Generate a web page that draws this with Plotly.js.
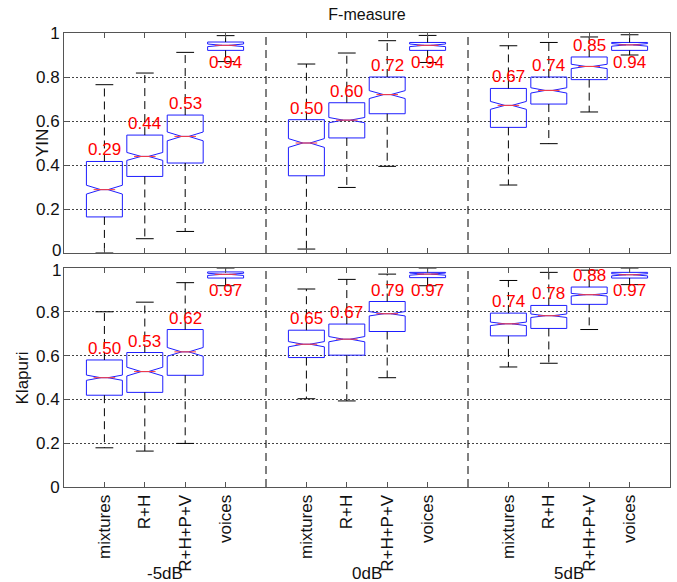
<!DOCTYPE html>
<html>
<head>
<meta charset="utf-8">
<script src="https://cdn.plot.ly/plotly-3.0.1.min.js"></script>
<style>
  html, body { margin: 0; padding: 0; background: #fff; }
  #chart { width: 677px; height: 582px; }
</style>
</head>
<body>
<div id="chart"></div>
<script>
// ---------- data ----------
const groups = ['-5dB', '0dB', '5dB'];
const methods = ['mixtures', 'R+H', 'R+H+P+V', 'voices'];

// YIN (order: -5dB x4 methods, 0dB x4, 5dB x4)
const yinLowerWhisker = [0.000, 0.065, 0.098, 0.870, 0.018, 0.298, 0.394, 0.866, 0.309, 0.497, 0.641, 0.900];
const yinQ1           = [0.164, 0.348, 0.409, 0.921, 0.351, 0.523, 0.633, 0.921, 0.571, 0.677, 0.788, 0.921];
const yinMedian       = [0.288, 0.439, 0.530, 0.944, 0.500, 0.604, 0.720, 0.944, 0.671, 0.739, 0.848, 0.946];
const yinQ3           = [0.416, 0.536, 0.627, 0.959, 0.606, 0.683, 0.800, 0.957, 0.748, 0.800, 0.891, 0.957];
const yinUpperWhisker = [0.765, 0.818, 0.912, 0.988, 0.859, 0.909, 0.965, 0.989, 0.942, 0.957, 0.982, 0.992];
const yinNotch        = [0.020, 0.018, 0.020, 0.006, 0.020, 0.012, 0.018, 0.006, 0.018, 0.012, 0.010, 0.006];
const yinLabels       = ['0.29', '0.44', '0.53', '0.94', '0.50', '0.60', '0.72', '0.94', '0.67', '0.74', '0.85', '0.94'];

// Klapuri
const klaLowerWhisker = [0.179, 0.164, 0.199, 0.919, 0.403, 0.393, 0.499, 0.919, 0.548, 0.565, 0.719, 0.924];
const klaQ1           = [0.419, 0.432, 0.510, 0.954, 0.591, 0.602, 0.710, 0.956, 0.690, 0.724, 0.834, 0.954];
const klaMedian       = [0.499, 0.527, 0.617, 0.971, 0.652, 0.675, 0.791, 0.972, 0.745, 0.782, 0.878, 0.969];
const klaQ3           = [0.580, 0.614, 0.719, 0.982, 0.716, 0.744, 0.847, 0.980, 0.794, 0.829, 0.913, 0.980];
const klaUpperWhisker = [0.800, 0.844, 0.933, 1.000, 0.904, 0.948, 0.972, 1.000, 0.943, 0.980, 0.990, 1.000];
const klaNotch        = [0.012, 0.020, 0.020, 0.005, 0.012, 0.012, 0.010, 0.005, 0.008, 0.008, 0.006, 0.005];
const klaLabels       = ['0.50', '0.53', '0.62', '0.97', '0.65', '0.67', '0.79', '0.97', '0.74', '0.78', '0.88', '0.97'];

const yTickVals = [0, 0.2, 0.4, 0.6, 0.8, 1];
const yTickText = ['0', '0.2', '0.4', '0.6', '0.8', '1'];

// ---------- styling ----------
const FONT = 'Liberation Sans, Arial, Helvetica, sans-serif';
const FS = 17;
const BOX_W = 0.89;
const NOTCH_W = 0.4;
const CAP_HALF = 0.22;
const BLUE = 'rgb(30,30,255)';
const DASH = '8px,5px';
const TXT = '#111';

// positions: groups of 4 separated by a gap
const positions = [];
const tickText = [];
groups.forEach((g, gi) => methods.forEach((m, mi) => {
  positions.push(gi * 5 + mi + 1);
  tickText.push(m);
}));
const separators = groups.slice(1).map((g, gi) => (gi + 1) * 5);

function panelTraces(xa, ya, lw, q1, med, q3, uw, notch) {
  const traces = [];
  traces.push({
    type: 'box', xaxis: xa, yaxis: ya,
    x: positions, q1: q1, median: med, q3: q3,
    lowerfence: q1, upperfence: q3,
    notched: true, notchspan: notch, notchwidth: NOTCH_W,
    width: BOX_W, whiskerwidth: 0, boxpoints: false,
    line: { color: BLUE, width: 1 },
    fillcolor: 'rgba(0,0,0,0)', hoverinfo: 'skip', showlegend: false
  });
  const wx = [], wy = [];
  const cx = [], cy = [];
  positions.forEach((p, i) => {
    wx.push(p, p, null, p, p, null);
    wy.push(q3[i], uw[i], null, q1[i], lw[i], null);
    cx.push(p - CAP_HALF, p + CAP_HALF, null, p - CAP_HALF, p + CAP_HALF, null);
    cy.push(uw[i], uw[i], null, lw[i], lw[i], null);
  });
  traces.push({
    type: 'scatter', mode: 'lines', xaxis: xa, yaxis: ya,
    x: wx, y: wy, line: { color: '#000', width: 1, dash: DASH },
    hoverinfo: 'skip', showlegend: false, cliponaxis: false
  });
  traces.push({
    type: 'scatter', mode: 'lines', xaxis: xa, yaxis: ya,
    x: cx, y: cy, line: { color: '#000', width: 1 },
    hoverinfo: 'skip', showlegend: false, cliponaxis: false
  });
  const mx = [], my = [];
  const mh = BOX_W / 2 * (1 - NOTCH_W);
  positions.forEach((p, i) => {
    mx.push(p - mh, p + mh, null);
    my.push(med[i], med[i], null);
  });
  traces.push({
    type: 'scatter', mode: 'lines', xaxis: xa, yaxis: ya,
    x: mx, y: my, line: { color: 'rgb(255,60,60)', width: 1 },
    hoverinfo: 'skip', showlegend: false
  });
  return traces;
}

function panelLabels(xa, ya, q1, q3, labels) {
  return positions.map((p, i) => {
    const below = methods[i % 4] === 'voices';
    return {
      xref: xa, yref: ya, x: p, y: below ? q1[i] : q3[i],
      text: labels[i], showarrow: false,
      xanchor: 'center', yanchor: below ? 'top' : 'bottom',
      yshift: below ? -1 : 0,
      font: { family: FONT, size: FS, color: 'rgb(255,0,0)' }
    };
  });
}

const data = [].concat(
  panelTraces('x', 'y', yinLowerWhisker, yinQ1, yinMedian, yinQ3, yinUpperWhisker, yinNotch),
  panelTraces('x2', 'y2', klaLowerWhisker, klaQ1, klaMedian, klaQ3, klaUpperWhisker, klaNotch)
);

const frame = '#555';
function xAxis(anchor, showLabels) {
  return {
    anchor: anchor, domain: [0, 1], range: [0, 15],
    tickvals: positions, ticktext: tickText, tickangle: -90,
    showticklabels: showLabels,
    ticks: 'inside', ticklen: 5, tickcolor: frame,
    showline: true, linecolor: frame, linewidth: 1, mirror: 'allticks',
    showgrid: false, zeroline: false, automargin: false,
    tickfont: { family: FONT, size: FS, color: TXT }
  };
}
// the two labels where the panels meet are drawn as annotations, nudged apart
const topPanelTickText = yTickText.map((t, i) => i === 0 ? '' : t);
const botPanelTickText = yTickText.map((t, i) => i === yTickText.length - 1 ? '' : t);
function yAxis(anchor, domain, ticktext) {
  return {
    anchor: anchor, domain: domain, range: [0, 1],
    tickvals: yTickVals, ticktext: ticktext,
    ticks: 'inside', ticklen: 5, tickcolor: frame,
    showline: true, linecolor: frame, linewidth: 1, mirror: 'allticks',
    showgrid: true, gridcolor: '#444', gridwidth: 1, griddash: '2px,2px',
    zeroline: false, automargin: false,
    tickfont: { family: FONT, size: FS, color: TXT }
  };
}

const shapes = [];
separators.forEach(s => {
  ['', '2'].forEach(k => {
    shapes.push({
      type: 'line', xref: 'x' + k, yref: 'y' + k + ' domain',
      x0: s, x1: s, y0: 0, y1: 1,
      line: { color: '#000', width: 1, dash: DASH }
    });
  });
});

const annotations = [].concat(
  panelLabels('x', 'y', yinQ1, yinQ3, yinLabels),
  panelLabels('x2', 'y2', klaQ1, klaQ3, klaLabels),
  groups.map((g, gi) => ({
    xref: 'x2', yref: 'paper', x: gi * 5 + 2.5, y: -0.1916,
    text: g, showarrow: false, xanchor: 'center', yanchor: 'middle',
    font: { family: FONT, size: FS, color: TXT }
  })),
  [
    { xref: 'paper', yref: 'y', x: 0, y: yTickVals[0], text: yTickText[0],
      showarrow: false, xanchor: 'right', yanchor: 'middle', xshift: -1, yshift: 3,
      font: { family: FONT, size: FS, color: TXT } },
    { xref: 'paper', yref: 'y2', x: 0, y: yTickVals[yTickVals.length - 1],
      text: yTickText[yTickText.length - 1],
      showarrow: false, xanchor: 'right', yanchor: 'middle', xshift: -1, yshift: -3,
      font: { family: FONT, size: FS, color: TXT } },
    { xref: 'paper', yref: 'paper', x: -0.0363, y: 0.7577, text: 'YIN',
      textangle: -90, showarrow: false, xanchor: 'center', yanchor: 'middle',
      font: { family: FONT, size: FS, color: TXT } },
    { xref: 'paper', yref: 'paper', x: -0.0677, y: 0.2412, text: 'Klapuri',
      textangle: -90, showarrow: false, xanchor: 'center', yanchor: 'middle',
      font: { family: FONT, size: FS, color: TXT } }
  ]
);

const layout = {
  width: 677, height: 582,
  margin: { l: 64, r: 7, t: 33, b: 95 },
  paper_bgcolor: '#fff', plot_bgcolor: '#fff',
  showlegend: false,
  title: {
    text: 'F-measure', x: 0.5, xref: 'paper', y: 1 - 14 / 582, yref: 'container',
    xanchor: 'center', yanchor: 'middle',
    font: { family: FONT, size: 16, color: TXT }
  },
  xaxis: xAxis('y', false),
  yaxis: yAxis('x', [0.5154, 1], topPanelTickText),
  xaxis2: xAxis('y2', true),
  yaxis2: yAxis('x2', [0, 0.4824], botPanelTickText),
  shapes: shapes,
  annotations: annotations
};

Plotly.newPlot('chart', data, layout, { displayModeBar: false, staticPlot: true });
</script>
</body>
</html>
